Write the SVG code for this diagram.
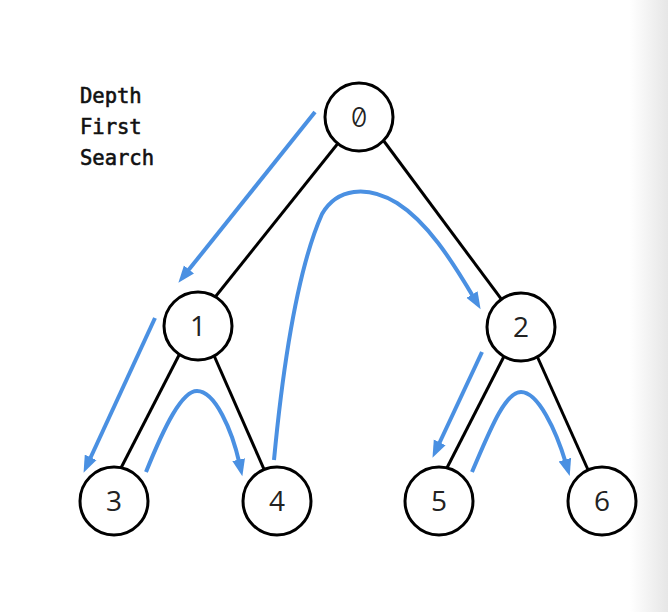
<svg xmlns="http://www.w3.org/2000/svg" width="668" height="612" viewBox="0 0 668 612">
  <defs>
    <linearGradient id="edgeShade" x1="0" y1="0" x2="1" y2="0">
      <stop offset="0" stop-color="#ffffff"/>
      <stop offset="1" stop-color="#e6e6e6"/>
    </linearGradient>
    <marker id="arrowHead" markerUnits="userSpaceOnUse" markerWidth="20" markerHeight="14" viewBox="0 -7 20 14" refX="4" refY="0" orient="auto">
      <path d="M0,-6.5 L17,0 L0,6.5 z" fill="#4a90e2"/>
    </marker>
    <style>
      .edge { stroke: #000; stroke-width: 3; fill: none; }
      .node circle { fill: #fff; stroke: #000; stroke-width: 3; }
      .node text { font-family: "Open Sans", "Liberation Sans", sans-serif; font-size: 28px; fill: #222; text-anchor: middle; }
      .node text.zero { font-family: Inter, "DejaVu Sans Mono", monospace; font-weight: 300; font-size: 27px; font-feature-settings: "zero" 1; }
      .trav { stroke: #4a90e2; stroke-width: 4; fill: none; marker-end: url(#arrowHead); }
      .title { font-family: "DejaVu Sans Mono", "Liberation Mono", monospace; font-size: 20.5px; fill: #111; stroke: #111; stroke-width: 0.6px; }
    </style>
  </defs>

  <rect width="668" height="612" fill="#fff"/>
  <rect x="630" y="0" width="38" height="612" fill="url(#edgeShade)"/>

  <g id="title">
    <text class="title" x="80" y="103">Depth</text>
    <text class="title" x="80" y="134">First</text>
    <text class="title" x="80" y="165">Search</text>
  </g>

  <!-- tree edges -->
  <g id="edges">
    <line class="edge" x1="359" y1="117" x2="192" y2="326"/>
    <line class="edge" x1="366" y1="117" x2="522" y2="327"/>
    <line class="edge" x1="194" y1="326" x2="104" y2="501"/>
    <line class="edge" x1="201" y1="326" x2="278" y2="501"/>
    <line class="edge" x1="519" y1="327" x2="430" y2="501"/>
    <line class="edge" x1="524" y1="327" x2="602" y2="501"/>
  </g>

  <g id="node0" class="node"><circle cx="359" cy="117" r="34"/><text class="zero" x="359" y="127">0</text></g>
  <g id="node1" class="node"><circle cx="198" cy="326" r="34"/><text x="198" y="336">1</text></g>
  <g id="node2" class="node"><circle cx="521" cy="327" r="34"/><text x="521" y="337">2</text></g>
  <g id="node3" class="node"><circle cx="114" cy="501" r="34"/><text x="114" y="511">3</text></g>
  <g id="node4" class="node"><circle cx="277" cy="501" r="34"/><text x="277" y="511">4</text></g>
  <g id="node5" class="node"><circle cx="439" cy="501" r="34"/><text x="439" y="511">5</text></g>
  <g id="node6" class="node"><circle cx="602" cy="501" r="34"/><text x="602" y="511">6</text></g>

  <!-- traversal order -->
  <g id="traversal">
    <path class="trav" d="M315,112 L186.5,272.6"/>
    <path class="trav" d="M155,318 L89,461"/>
    <path class="trav" d="M146,472 C165,425 182,391 197,391 C215,391 232,430 239.5,463.5"/>
    <path class="trav" d="M274,460 C283,365 298,268 322,214 C337,188 367,185 397,203 C427,222 451,259 474,298"/>
    <path class="trav" d="M482,352 L438,446"/>
    <path class="trav" d="M472,472 C490,430 505,392 521,392 C538,392 556,430 566,463.5"/>
  </g>
</svg>
